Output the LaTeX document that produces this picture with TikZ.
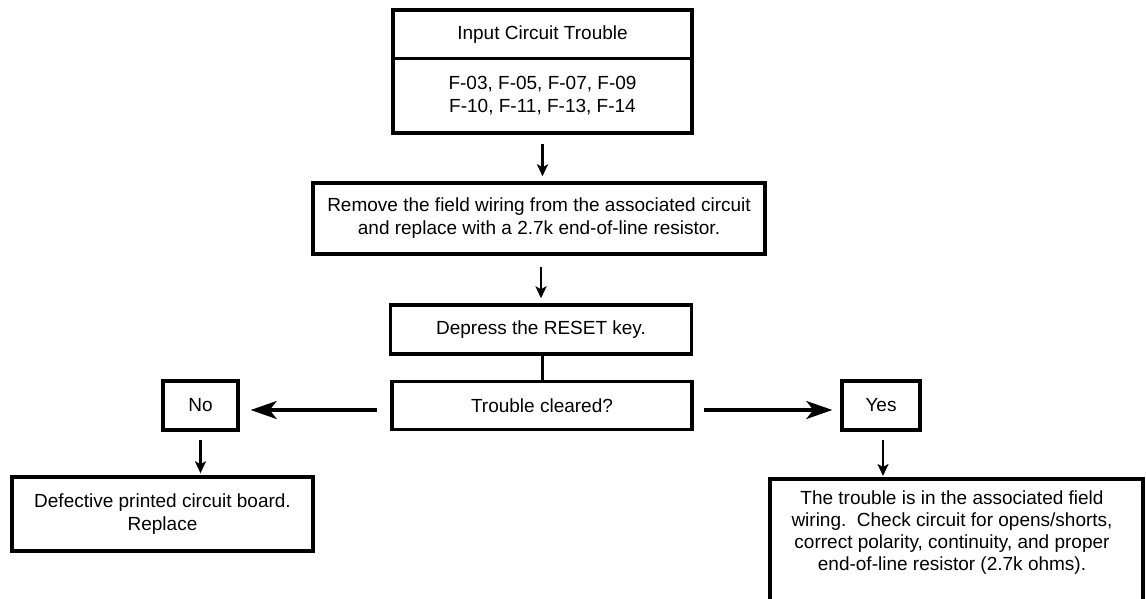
\documentclass[tikz,border=0pt]{standalone}
\usepackage{fontspec}
\setmainfont{Liberation Sans}
\usetikzlibrary{arrows.meta}

\begin{document}
\begin{tikzpicture}[x=1pt, y=-1pt,
  every node/.style={font=\fontsize{19}{23}\selectfont},
  box/.style={draw, line width=3.4pt, inner sep=0pt, align=center},
  vline/.style={line width=3pt},
  varrow/.style={line width=2.6pt, -{Stealth[length=12pt, width=11pt, inset=3pt]}},
  harrow/.style={line width=3.4pt, -{Stealth[length=26pt, width=18pt, inset=7pt]}}
]
\useasboundingbox (0,0) rectangle (1146,599);
\clip (0,0) rectangle (1146,599);

% header box with its list of trouble codes
\node[box, minimum width=299pt, minimum height=48.5pt] (head) at (542.5,34.25) {Input Circuit Trouble};
\node[box, minimum width=299pt, minimum height=74.5pt] (codes) at (542.5,95.75)
  {F-03, F-05, F-07, F-09\\F-10, F-11, F-13, F-14};

% procedure steps
\node[box, minimum width=452pt, minimum height=71pt] (remove) at (539,218.5)
  {Remove the field wiring from the associated circuit\\and replace with a 2.7k end-of-line resistor.};
\node[box, minimum width=301pt, minimum height=49pt] (reset) at (541,329.5) {Depress the RESET key.};
\node[box, minimum width=300pt, minimum height=48pt] (cleared) at (542,405.5) {Trouble cleared?};

% outcomes
\node[box, minimum width=75pt, minimum height=49pt] (no) at (200.5,405.5) {No};
\node[box, minimum width=78pt, minimum height=49pt] (yes) at (881,405.5) {Yes};
\node[box, minimum width=301pt, minimum height=74pt] (defect) at (162.5,514)
  {Defective printed circuit board.\\Replace};
\node[align=center, anchor=north, inner sep=0pt,
      font=\fontsize{19}{21.7}\selectfont] (field) at (952,491)
  {The trouble is in the associated field\\wiring.\ \ Check circuit for opens/shorts,\\correct polarity, continuity, and proper\\end-of-line resistor (2.7k ohms).};
\draw[line width=3.4pt] (770,479) rectangle (1143,610);
\coordinate (fieldtop) at (883,479);

% connectors
\draw[varrow, shorten <=9pt, shorten >=5pt] (codes.south) -- (remove.north -| codes.south);
\draw[varrow, shorten <=11pt, shorten >=5pt] (remove.south -| reset.north) -- (reset.north);
\draw[vline] (reset.south -| cleared.north) -- (cleared.north);
\draw[harrow, shorten <=13pt, shorten >=11pt] ([yshift=-4.5pt]cleared.west) -- ([yshift=-4.5pt]no.east);
\draw[harrow, shorten <=10pt, shorten >=8pt] ([yshift=-4.5pt]cleared.east) -- ([yshift=-4.5pt]yes.west);
\draw[varrow, shorten <=8pt, shorten >=2pt] (no.south) -- (no.south |- defect.north);
\draw[varrow, shorten <=8pt, shorten >=3pt] (yes.south -| fieldtop) -- (fieldtop);
\end{tikzpicture}
\end{document}
